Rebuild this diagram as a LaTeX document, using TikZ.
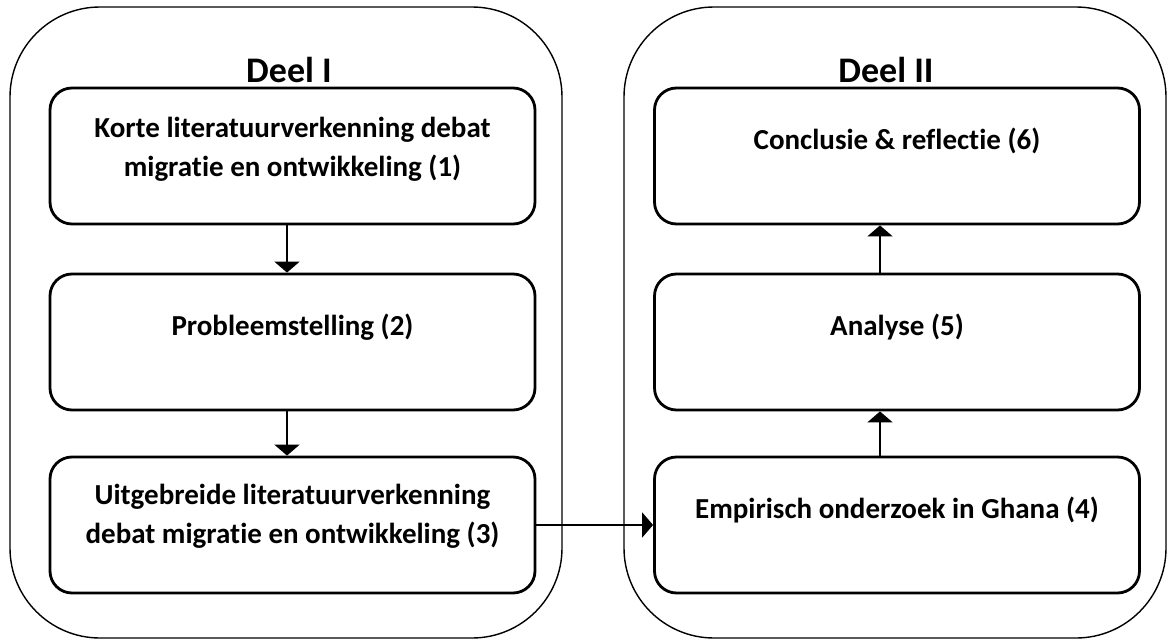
\documentclass[tikz,border=0pt]{standalone}
\usepackage{fontspec}
\setmainfont{Carlito}[Ligatures=NoCommon]
\usetikzlibrary{arrows.meta}

\begin{document}
\begin{tikzpicture}[x=1pt,y=-1pt,
  deel/.style={draw, line width=1.4pt, rounded corners=90pt, minimum width=552pt, minimum height=631pt},
  blok/.style={draw, line width=2.8pt, rounded corners=22pt, minimum width=485pt, minimum height=136pt},
  tekst/.style={font=\bfseries\fontsize{29}{38.5}\selectfont, align=center, anchor=base, inner sep=0pt},
  kop/.style={font=\bfseries\fontsize{36}{40}\selectfont, anchor=base, inner sep=0pt},
  pijl/.style={line width=2pt, -{Triangle[width=25pt,length=11pt]}}]

 \useasboundingbox (0,0) rectangle (1168,640);

 \node[deel] (deel1) at (286,322.5) {};
 \node[deel, minimum width=542pt] (deel2) at (895,322.5) {};
 \path (289,82) node[kop] (kop1) {Deel I};
 \path (886,82) node[kop] (kop2) {Deel II};

 \node[blok] (b1) at (292.5,156) {};
 \node[blok] (b2) at (292.5,342) {};
 \node[blok] (b3) at (292.5,525) {};
 \node[blok] (b6) at (897,156) {};
 \node[blok] (b5) at (897,342) {};
 \node[blok] (b4) at (897,525) {};

 % multi-line texts sit on the baseline of their last line
 \path (292.5,176) node[tekst] (t1) {Korte literatuurverkenning debat\\migratie en ontwikkeling (1)};
 \path (292.5,335) node[tekst] (t2) {Probleemstelling (2)};
 \path (292.5,543) node[tekst] (t3) {Uitgebreide literatuurverkenning\\debat migratie en ontwikkeling (3)};
 \path (897,518) node[tekst] (t4) {Empirisch onderzoek in Ghana (4)};
 \path (897,335) node[tekst] (t5) {Analyse (5)};
 \path (897,149) node[tekst] (t6) {Conclusie \& reflectie (6)};

 \draw[pijl] ([xshift=-5.5pt]b1.south) -- ([xshift=-5.5pt]b2.north);
 \draw[pijl] ([xshift=-5.5pt]b2.south) -- ([xshift=-5.5pt]b3.north);
 \draw[pijl] (b3.east) -- (b4.west);
 \draw[pijl] ([xshift=-17pt]b4.north) -- ([xshift=-17pt]b5.south);
 \draw[pijl] ([xshift=-17pt]b5.north) -- ([xshift=-17pt]b6.south);
\end{tikzpicture}
\end{document}
